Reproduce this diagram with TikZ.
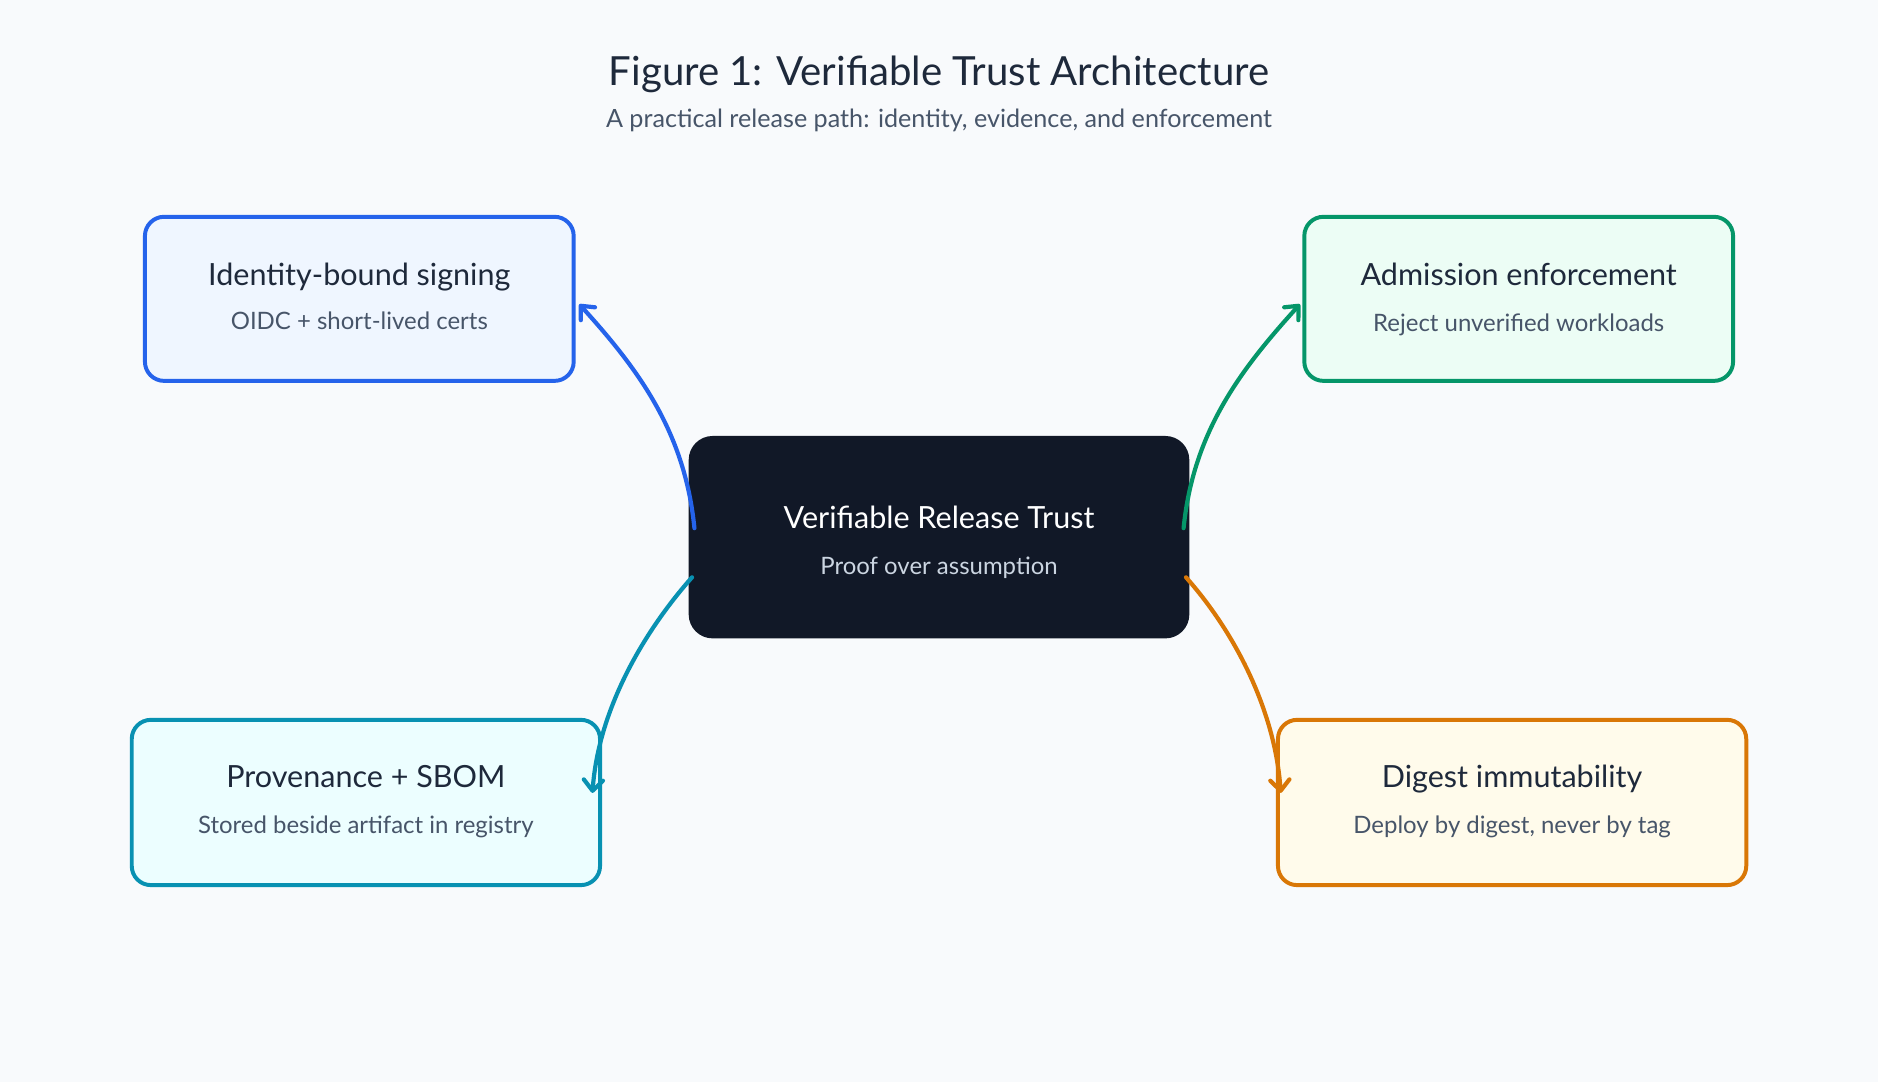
\documentclass[tikz,border=0pt]{standalone}
\usepackage{fontspec}
\setmainfont{Lato}
\usetikzlibrary{arrows.meta,calc}
\definecolor{bgc}{HTML}{F8FAFC}
\definecolor{ttl}{HTML}{1E293B}
\definecolor{subc}{HTML}{475569}
\definecolor{dark}{HTML}{111827}
\definecolor{ctrsub}{HTML}{CBD5E1}
\definecolor{blueL}{HTML}{2563EB}\definecolor{blueF}{HTML}{EFF6FF}
\definecolor{greenL}{HTML}{059669}\definecolor{greenF}{HTML}{ECFDF5}
\definecolor{tealL}{HTML}{0891B2}\definecolor{tealF}{HTML}{ECFEFF}
\definecolor{orangeL}{HTML}{D97706}\definecolor{orangeF}{HTML}{FFFBEB}
\tikzset{
  card/.style={draw, line width=3.3pt, rounded corners=16pt, minimum width=358pt, minimum height=137pt, inner sep=0pt},
  wide/.style={minimum width=391pt, minimum height=138pt},
  cardtitle/.style={font=\fontsize{25.5}{30}\selectfont, text=ttl, text height=0.72em, text depth=0.22em, inner sep=0pt},
  cardsub/.style={font=\fontsize{20}{24}\selectfont, text=subc, text height=0.72em, text depth=0.22em, inner sep=0pt},
  link/.style={line width=3.5pt, line cap=round, line join=round, -{Straight Barb[length=9pt,width=16pt,line cap=round,line join=round]}},
}
\begin{document}
\begin{tikzpicture}[x=1pt,y=-1pt]
\fill[bgc] (0,0) rectangle (1568,903);
\useasboundingbox (0,0) rectangle (1568,903);
\node[font=\fontsize{33.5}{38}\selectfont, text=ttl, text height=0.72em, text depth=0.22em, inner sep=0pt] (title) at (784,69) {Figure 1: Verifiable Trust Architecture};
\node[font=\fontsize{21}{25}\selectfont, text=subc, text height=0.72em, text depth=0.22em, inner sep=0pt] (subtitle) at (784,104) {A practical release path: identity, evidence, and enforcement};

\node[card, draw=blueL, fill=blueF] (b1) at (300,249.5) {};
\node[card, draw=greenL, fill=greenF] (b2) at (1268,249.5) {};
\node[card, wide, draw=tealL, fill=tealF] (b3) at (305.5,670) {};
\node[card, wide, draw=orangeL, fill=orangeF] (b4) at (1262.5,670) {};
\node[fill=dark, rounded corners=20pt, minimum width=418pt, minimum height=169pt, inner sep=0pt] (ctr) at (784,448.5) {};

\node[cardtitle] (b1t) at ([yshift=14pt]b1.center) {Identity-bound signing};
\node[cardsub] (b1s) at ([yshift=-23pt]b1.center) {OIDC + short-lived certs};
\node[cardtitle] (b2t) at ([yshift=14pt]b2.center) {Admission enforcement};
\node[cardsub] (b2s) at ([yshift=-25pt]b2.center) {Reject unverified workloads};
\node[cardtitle] (b3t) at ([yshift=15pt]b3.center) {Provenance + SBOM};
\node[cardsub] (b3s) at ([yshift=-23pt]b3.center) {Stored beside artifact in registry};
\node[cardtitle] (b4t) at ([yshift=15pt]b4.center) {Digest immutability};
\node[cardsub] (b4s) at ([yshift=-23pt]b4.center) {Deploy by digest, never by tag};
\node[cardtitle, text=white] (ct) at ([yshift=10pt]ctr.center) {Verifiable Release Trust};
\node[cardsub, text=ctrsub] (cs) at ([yshift=-29pt]ctr.center) {Proof over assumption};

\draw[link, blueL] ([xshift=5pt,yshift=7.5pt]ctr.west) .. controls +(-8,-80) and +(50,55) .. ([xshift=3pt,yshift=-4.5pt]b1.east);
\draw[link, greenL] ([xshift=-5pt,yshift=7.5pt]ctr.east) .. controls +(8,-80) and +(-50,55) .. ([xshift=-2pt,yshift=-4.5pt]b2.west);
\draw[link, tealL] ([xshift=3pt,yshift=-33.5pt]ctr.west) .. controls +(-40,45) and +(5,-70) .. ([xshift=-8pt,yshift=8pt]b3.east);
\draw[link, orangeL] ([xshift=-3pt,yshift=-33.5pt]ctr.east) .. controls +(40,45) and +(-5,-70) .. ([xshift=4pt,yshift=8pt]b4.west);
\end{tikzpicture}
\end{document}
